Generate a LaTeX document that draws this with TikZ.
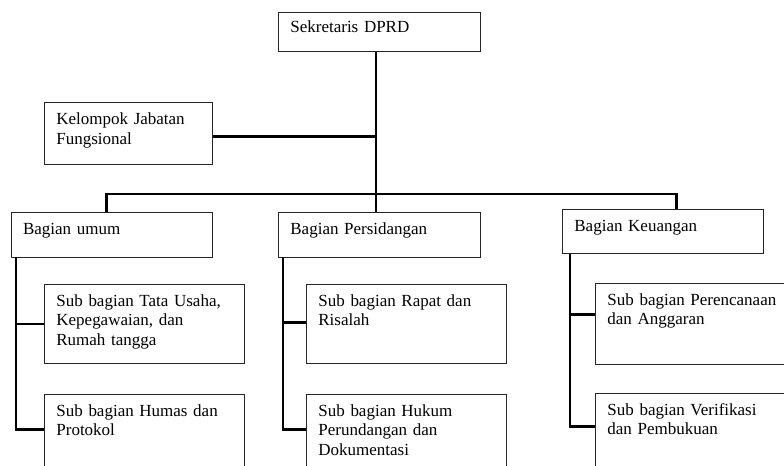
\documentclass[tikz,border=0pt]{standalone}
\usepackage{fontspec}
\setmainfont{Liberation Serif}
\usetikzlibrary{calc}

\def\u{0.03cm}
\tikzset{
  box/.style={draw=black!85, line width=0.7pt, anchor=north west, inner xsep=12*\u, inner ysep=0pt, align=left, text height=22*\u},
  size/.code 2 args={\pgfmathsetlengthmacro\bw{(#1-24)*0.03cm}\pgfmathsetlengthmacro\bd{(#2-22)*0.03cm}\tikzset{text width=\bw, text depth=\bd}},
  conn/.style={line width=2.2pt, black}
}

\begin{document}
\begin{tikzpicture}[x=\u, y=-\u, font=\fontsize{14.5}{16.6}\selectfont]
\useasboundingbox (0,0) rectangle (784,465);
\clip (0,0) rectangle (784,465);
% top
\node[box, size={202}{41.5}, text height=20*\u] (sek) at (278,11.7) {Sekretaris DPRD};
\node[box, size={168}{62}] (kjf) at (44,102.3) {Kelompok Jabatan\\Fungsional};
% bagian
\node[box, size={201.5}{44.5}] (umum) at (10.7,212) {Bagian umum};
\node[box, size={202}{44.5}] (per) at (278,212) {Bagian Persidangan};
\node[box, size={201}{43.5}] (keu) at (562,209.3) {Bagian Keuangan};
% sub bagian
\node[box, size={199.5}{79}] (tu) at (44,284) {Sub bagian Tata Usaha,\\Kepegawaian, dan\\Rumah tangga};
\node[box, size={199.5}{79}] (hp) at (44,394) {Sub bagian Humas dan\\Protokol};
\node[box, size={200}{79}] (rr) at (306,284) {Sub bagian Rapat dan\\Risalah};
\node[box, size={200}{79}] (hk) at (306,394) {Sub bagian Hukum\\Perundangan dan\\Dokumentasi};
\node[box, size={200}{80.5}] (pa) at (595,283) {Sub bagian Perencanaan\\dan Anggaran};
\node[box, size={200}{80}] (vp) at (595,393) {Sub bagian Verifikasi\\dan Pembukuan};
% lines
\coordinate (top) at ([xshift=-3.5*\u]sek.south);
\draw[conn] (top) -- (top |- per.north);
\draw[conn] ([yshift=-3*\u]kjf.east) -- ([yshift=-3*\u]kjf.east -| top);
\draw[conn] ([xshift=-5.5*\u]umum.north) -- ++(0,-18) -| ([xshift=13.5*\u]keu.north);
\coordinate (t1) at ([xshift=5.5*\u]umum.south west);
\coordinate (t2) at ([xshift=5*\u]per.south west);
\coordinate (t3) at ([xshift=8*\u]keu.south west);
\draw[conn] (t1) |- ([yshift=4.5*\u]hp.west);
\draw[conn] (tu.west) -- (tu.west -| t1);
\draw[conn] (t2) |- ([yshift=4.5*\u]hk.west);
\draw[conn] ([yshift=1.5*\u]rr.west) -- ([yshift=1.5*\u]rr.west -| t2);
\draw[conn] (t3) |- ([yshift=7*\u]vp.west);
\draw[conn] ([yshift=9*\u]pa.west) -- ([yshift=9*\u]pa.west -| t3);
\end{tikzpicture}
\end{document}
